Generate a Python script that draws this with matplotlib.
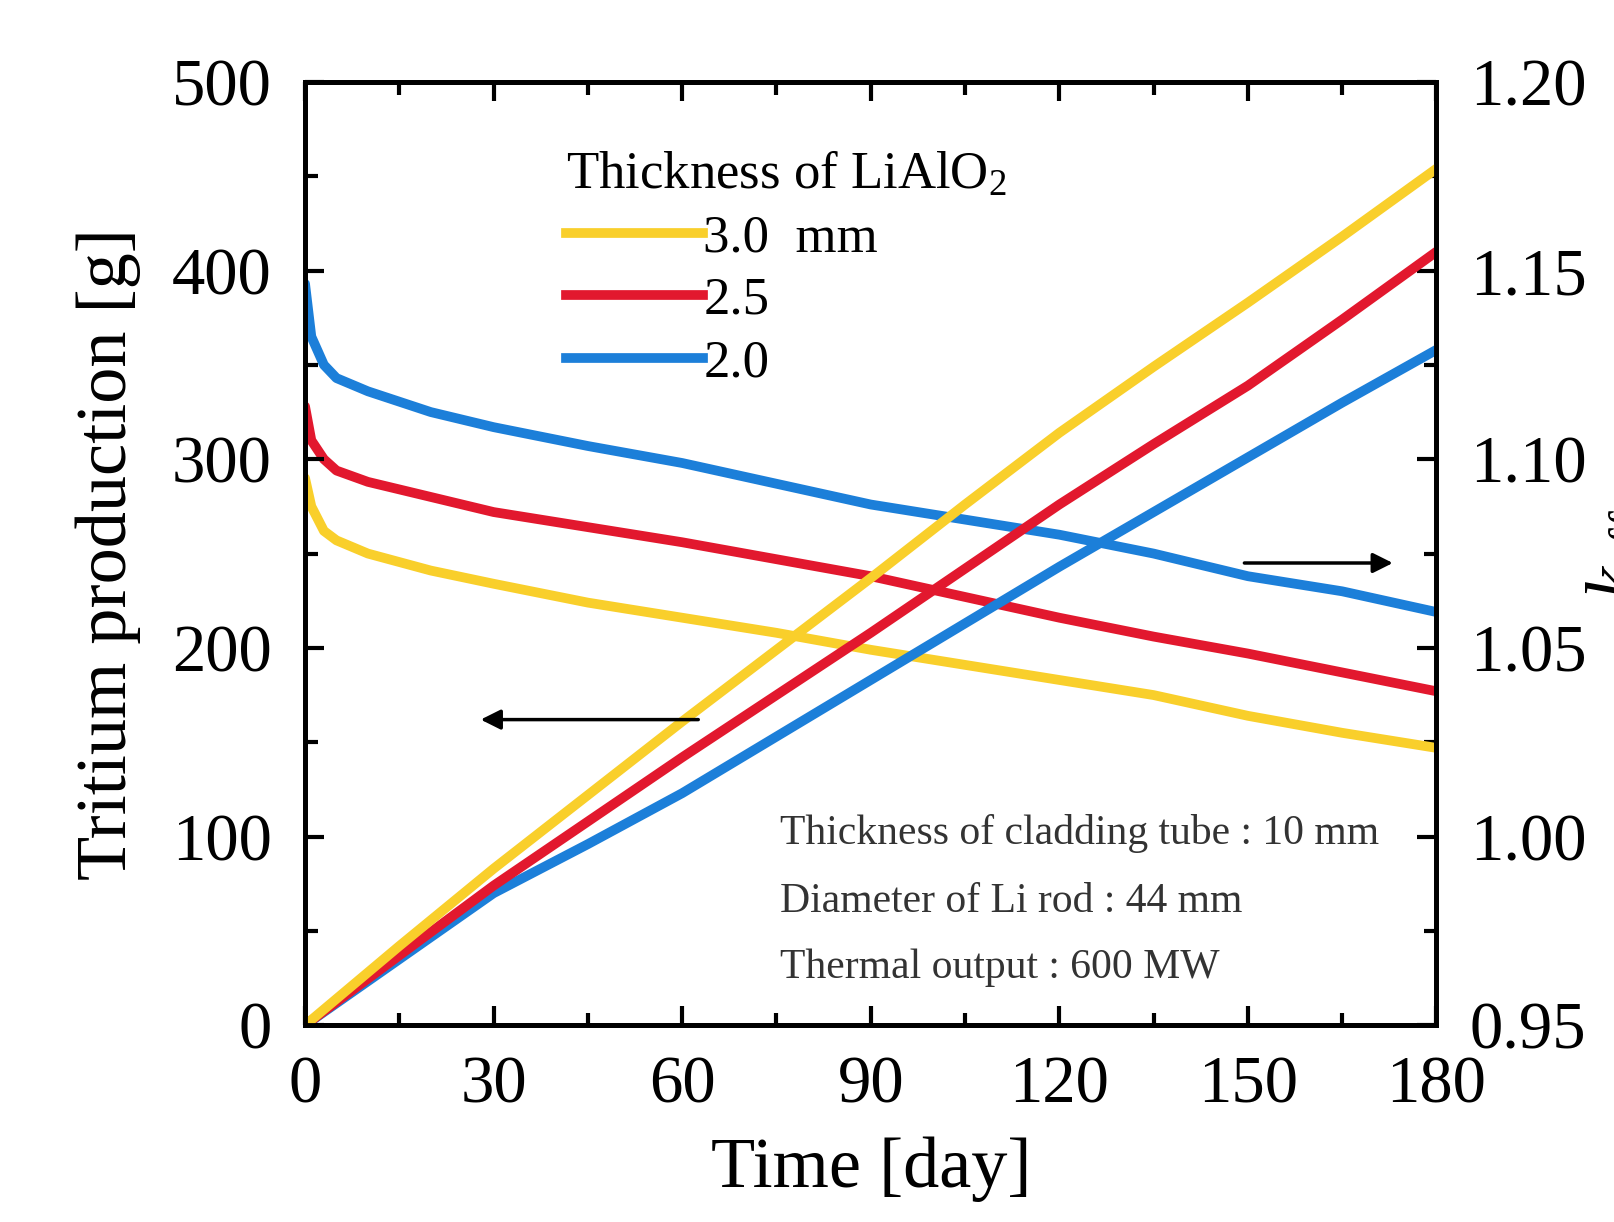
import numpy as np
import matplotlib
matplotlib.use("Agg")
import matplotlib.pyplot as plt
from matplotlib.ticker import MultipleLocator
from matplotlib.lines import Line2D

plt.rcParams['font.family'] = ['Liberation Serif', 'DejaVu Serif']
plt.rcParams['mathtext.fontset'] = 'custom'
plt.rcParams['mathtext.rm'] = 'Liberation Serif'
plt.rcParams['mathtext.it'] = 'Liberation Serif:italic'

# tritium production [g] vs time
days_t = [0, 15, 30, 45, 60, 75, 90, 105, 120, 135, 150, 165, 180]
trit_30 = [0, 42, 83, 122, 161, 199, 237, 276, 314, 349, 383, 418, 454]
trit_25 = [0, 37, 74, 108, 142, 175, 208, 242, 276, 308, 339, 374, 410]
trit_20 = [0, 35, 70, 96, 123, 153, 183, 213, 243, 272, 301, 330, 358]

# k_eff vs time
days_k = [0, 1, 3, 5, 10, 20, 30, 45, 60, 75, 90, 105, 120, 135, 150, 165, 180]
keff_30 = [1.095, 1.0875, 1.081, 1.0785, 1.075, 1.0705, 1.067, 1.062, 1.058, 1.054,
           1.0495, 1.0455, 1.0415, 1.0375, 1.032, 1.0275, 1.0235]
keff_25 = [1.114, 1.105, 1.100, 1.097, 1.094, 1.090, 1.086, 1.082, 1.078, 1.0735,
           1.069, 1.0635, 1.058, 1.053, 1.0485, 1.0435, 1.0385]
keff_20 = [1.1465, 1.1325, 1.125, 1.1215, 1.118, 1.1125, 1.1085, 1.1035, 1.099, 1.0935,
           1.088, 1.084, 1.080, 1.075, 1.069, 1.065, 1.0595]

labels = ['3.0  mm', '2.5', '2.0']
colors = ['#F9CF2B', '#E2182E', '#1C7FD9']

fig = plt.figure(figsize=(16.14, 12.22), dpi=100)
ax = fig.add_axes([0.189, 0.161, 0.701, 0.772])
ax2 = ax.twinx()

lw = 7
for d, c in zip([keff_20, keff_25, keff_30], colors[::-1]):
    ax2.plot(days_k, d, color=c, lw=lw, solid_capstyle='round')
for d, c in zip([trit_20, trit_25, trit_30], colors[::-1]):
    ax.plot(days_t, d, color=c, lw=lw, solid_capstyle='round')
ax.set_zorder(ax2.get_zorder() + 1)
ax.patch.set_visible(False)

ax.set_xlim(0, 180)
ax.set_ylim(0, 500)
ax2.set_ylim(0.95, 1.20)
ax.xaxis.set_major_locator(MultipleLocator(30))
ax.xaxis.set_minor_locator(MultipleLocator(15))
ax.yaxis.set_major_locator(MultipleLocator(100))
ax.yaxis.set_minor_locator(MultipleLocator(50))
ax2.yaxis.set_major_locator(MultipleLocator(0.05))
ax2.yaxis.set_minor_locator(MultipleLocator(0.025))
ax2.yaxis.set_major_formatter(plt.FuncFormatter(lambda v, p: '%.2f' % v))

for a in (ax, ax2):
    for s in a.spines.values():
        s.set_linewidth(3.5)
ax.tick_params(which='both', direction='in', width=3, labelsize=48, top=True, pad=22)
ax.tick_params(axis='y', pad=24)
ax.tick_params(which='major', length=14)
ax.tick_params(which='minor', length=9)
ax.tick_params(axis='y', which='both', right=False)
ax2.tick_params(which='both', direction='in', width=3, labelsize=48, pad=24)
ax2.tick_params(which='major', length=14)
ax2.tick_params(which='minor', length=9)

ax.set_xlabel('Time [day]', fontsize=52, labelpad=14)
ax.set_ylabel('Tritium production [g]', fontsize=52, labelpad=22)
ax2.set_ylabel('$k_{\\mathrm{eff}}$', fontsize=52, labelpad=0)

# legend
handles = [Line2D([], [], color=c, lw=lw) for c in colors]
leg = ax.legend(handles, labels, title='Thickness of LiAlO$_2$', loc='upper left',
                bbox_to_anchor=(0.212, 0.95), frameon=False, fontsize=38,
                title_fontsize=38, handlelength=2.6, handletextpad=0.0,
                labelspacing=0.28, borderaxespad=0)
leg._legend_box.align = 'left'
for h in leg.legend_handles:
    h.set_linewidth(lw)

# arrows
ax.annotate('', xy=(27.5, 162), xytext=(63, 162),
            arrowprops=dict(arrowstyle='-|>', color='black', lw=2.5, mutation_scale=30))
ax.annotate('', xy=(173.5, 245), xytext=(149, 245),
            arrowprops=dict(arrowstyle='-|>', color='black', lw=2.5, mutation_scale=30))

# notes
ax.text(75.5, 101.5, 'Thickness of cladding tube : 10 mm', fontsize=30, va='center', color='#333333')
ax.text(75.5, 65.5, 'Diameter of Li rod : 44 mm', fontsize=30, va='center', color='#333333')
ax.text(75.5, 30.5, 'Thermal output : 600 MW', fontsize=30, va='center', color='#333333')

fig.savefig('out.png', dpi=100)
